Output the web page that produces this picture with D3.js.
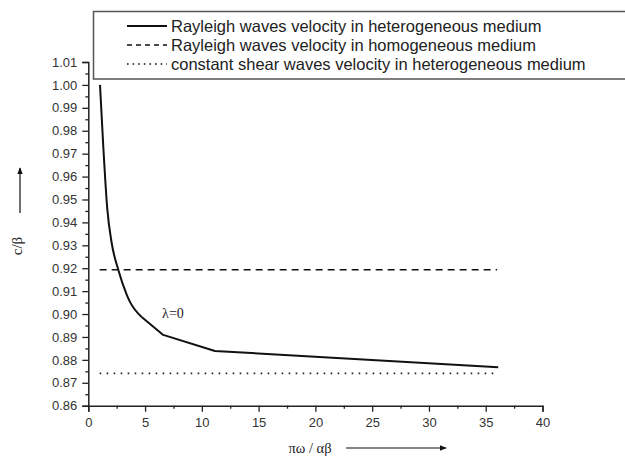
<!DOCTYPE html>
<html>
<head>
<meta charset="utf-8">
<script src="https://cdn.jsdelivr.net/npm/d3@7"></script>
<style>
  body { margin: 0; background: #fff; }
  svg { display: block; }
</style>
</head>
<body>
<div id="chart-area"></div>
<script>
// Data
var xValues = [1.03, 1.32, 1.67, 2.06, 2.64, 3.38, 3.67, 4.70, 6.60, 11.15, 36.1];
var cHetero = [1.000, 0.9731, 0.9460, 0.9310, 0.9193, 0.9085, 0.9053, 0.8987, 0.8909, 0.8839, 0.8768];
var cHomo = 0.9193;           // Rayleigh, homogeneous medium
var cShear = 0.8741;          // constant shear wave velocity
var flatRange = [1, 36];
var xTicks = [0, 5, 10, 15, 20, 25, 30, 35, 40];
var yTicks = [0.86, 0.87, 0.88, 0.89, 0.90, 0.91, 0.92, 0.93, 0.94, 0.95, 0.96, 0.97, 0.98, 0.99, 1.00, 1.01];
var legendLabels = [
    "Rayleigh waves velocity in heterogeneous medium",
    "Rayleigh waves velocity in homogeneous medium",
    "constant shear waves velocity in heterogeneous medium"
];

var width = 625, height = 457;

var svg = d3.select("#chart-area")
    .append("svg")
        .attr("width", width)
        .attr("height", height);

var defs = svg.append("defs");
defs.append("marker")
    .attr("id", "arrow")
    .attr("viewBox", "0 0 10 10")
    .attr("refX", 9).attr("refY", 5)
    .attr("markerWidth", 7).attr("markerHeight", 7)
    .attr("markerUnits", "userSpaceOnUse")
    .attr("orient", "auto")
  .append("path")
    .attr("d", "M0,1 L10,5 L0,9 Z")
    .attr("fill", "#111");

// Scales
var x = d3.scaleLinear().domain([0, 40]).range([88.3, 542.5]);
var y = d3.scaleLinear().domain([0.86, 1.01]).range([405.7, 62]);

// Minor ticks
var xMinor = d3.range(0, 40.01, 2.5).filter(function(d){ return d % 5 !== 0; });
var yMinor = d3.range(0, 15).map(function(i){ return 0.865 + i * 0.01; });

var g = svg.append("g");

var axisColor = "#222";

// X axis
g.append("g")
    .attr("transform", "translate(0," + y(0.86) + ")")
    .call(d3.axisBottom(x).tickValues(xTicks).tickSize(6).tickPadding(6).tickFormat(d3.format("d")));
g.append("g")
    .attr("transform", "translate(0," + y(0.86) + ")")
    .call(d3.axisBottom(x).tickValues(xMinor).tickSize(3).tickFormat(""))
    .select(".domain").remove();

// Y axis
g.append("g")
    .attr("transform", "translate(" + x(0) + ",0)")
    .call(d3.axisLeft(y).tickValues(yTicks).tickSize(6).tickPadding(5).tickFormat(d3.format(".2f")));
g.append("g")
    .attr("transform", "translate(" + x(0) + ",0)")
    .call(d3.axisLeft(y).tickValues(yMinor).tickSize(3).tickFormat(""))
    .select(".domain").remove();

g.selectAll(".domain").attr("stroke", axisColor).attr("stroke-width", 1.5);
g.selectAll(".tick line").attr("stroke", axisColor).attr("stroke-width", 1.3);
g.selectAll(".tick text")
    .attr("font-family", "Liberation Sans, Arial, sans-serif")
    .attr("font-size", "13px")
    .attr("fill", "#333");

// Lines
var line = d3.line()
    .x(function(d){ return x(d[0]); })
    .y(function(d){ return y(d[1]); });
var smooth = d3.line()
    .x(function(d){ return x(d[0]); })
    .y(function(d){ return y(d[1]); })
    .curve(d3.curveMonotoneX);

var heteroData = xValues.map(function(v, i){ return [v, cHetero[i]]; });

g.append("path")
    .datum(flatRange.map(function(v){ return [v, cHomo]; }))
    .attr("d", line)
    .attr("fill", "none")
    .attr("stroke", "#111")
    .attr("stroke-width", 1.6)
    .attr("stroke-dasharray", "7,5");

g.append("path")
    .datum(flatRange.map(function(v){ return [v, cShear]; }))
    .attr("d", line)
    .attr("fill", "none")
    .attr("stroke", "#222")
    .attr("stroke-width", 1.6)
    .attr("stroke-dasharray", "1.6,5.4");

// steep part is smooth, the tail has visible corners
g.append("path")
    .datum(heteroData.slice(0, 8))
    .attr("d", smooth)
    .attr("fill", "none")
    .attr("stroke", "#111")
    .attr("stroke-width", 2)
    .attr("stroke-linejoin", "round");
g.append("path")
    .datum(heteroData.slice(7))
    .attr("d", line)
    .attr("fill", "none")
    .attr("stroke", "#111")
    .attr("stroke-width", 2)
    .attr("stroke-linejoin", "round");

// lambda annotation
g.append("text")
    .attr("x", x(6.5))
    .attr("y", y(0.8981))
    .attr("font-family", "Liberation Serif, Times New Roman, serif")
    .attr("font-size", "14px")
    .attr("fill", "#222")
    .text("λ=0");

// Legend
var legend = svg.append("g");
legend.append("rect")
    .attr("x", 93.5).attr("y", 11.5)
    .attr("width", 540).attr("height", 67.5)
    .attr("fill", "#fff")
    .attr("stroke", "#555")
    .attr("stroke-width", 1.5);

var dashes = [null, "5,4", "1.6,4"];
legendLabels.forEach(function(label, i){
    var ly = 26 + i * 19;
    legend.append("line")
        .attr("x1", 127).attr("x2", 167)
        .attr("y1", ly).attr("y2", ly)
        .attr("stroke", "#111")
        .attr("stroke-width", i === 0 ? 2 : 1.4)
        .attr("stroke-dasharray", dashes[i]);
    legend.append("text")
        .attr("x", 171)
        .attr("y", ly)
        .attr("dy", "0.35em")
        .attr("font-family", "Liberation Sans, Arial, sans-serif")
        .attr("font-size", "16.5px")
        .attr("fill", "#222")
        .text(label);
});

// Axis titles with arrows
svg.append("text")
    .attr("transform", "translate(22,246) rotate(-90)")
    .attr("text-anchor", "middle")
    .attr("font-family", "Liberation Serif, Times New Roman, serif")
    .attr("font-size", "15px")
    .attr("fill", "#222")
    .text("c/β");
svg.append("line")
    .attr("x1", 20).attr("x2", 20)
    .attr("y1", 213).attr("y2", 168)
    .attr("stroke", "#111").attr("stroke-width", 1.2)
    .attr("marker-end", "url(#arrow)");

svg.append("text")
    .attr("x", 310)
    .attr("y", 448)
    .attr("dy", "0.35em")
    .attr("text-anchor", "middle")
    .attr("font-family", "Liberation Serif, Times New Roman, serif")
    .attr("font-size", "14.5px")
    .attr("fill", "#222")
    .text("πω / αβ");
svg.append("line")
    .attr("x1", 346).attr("x2", 446)
    .attr("y1", 448).attr("y2", 448)
    .attr("stroke", "#111").attr("stroke-width", 1.2)
    .attr("marker-end", "url(#arrow)");
</script>
</body>
</html>
